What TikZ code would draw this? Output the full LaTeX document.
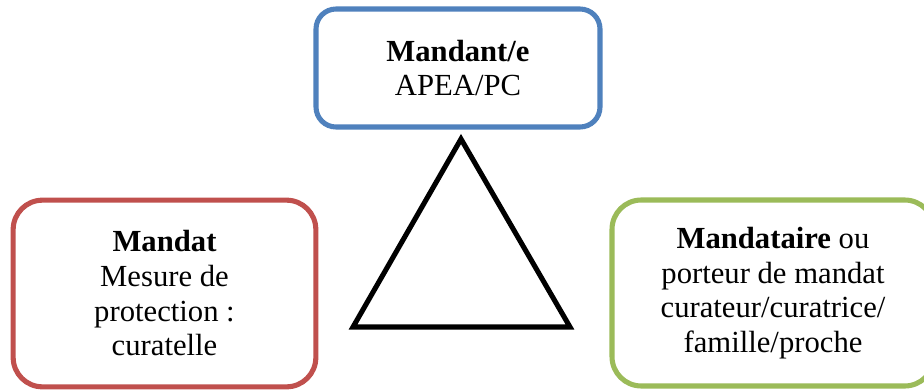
\documentclass[tikz,border=0pt]{standalone}
\usepackage{fontspec}
\setmainfont{Liberation Serif}
\definecolor{boxblue}{HTML}{4F81BD}
\definecolor{boxred}{HTML}{C0504D}
\definecolor{boxgreen}{HTML}{9BBB59}
\begin{document}
\begin{tikzpicture}[x=0.75pt,y=-0.75pt,
  card/.style={draw, line width=3.8pt, fill=white, align=center, inner sep=0pt,
    font=\fontsize{23}{26}\selectfont},
  tri/.style={draw=black, line width=3.8pt, line join=miter}]
\useasboundingbox (0,0) rectangle (924,389);
\node[card, draw=boxblue, rounded corners=15pt, minimum width=213pt, minimum height=88.5pt]
  (mandant) at (458,68) {\textbf{Mandant/e}\\APEA/PC};
\node[card, draw=boxred, rounded corners=22pt, minimum width=227pt, minimum height=140pt]
  (mandat) at (164.5,293.5) {\textbf{Mandat}\\Mesure de\\protection :\\curatelle};
\node[card, draw=boxgreen, rounded corners=22pt, minimum width=241.5pt, minimum height=139.5pt]
  (mandataire) at (773,293) {\textbf{Mandataire} ou\\porteur de mandat\\curateur/curatrice/\\famille/proche};
\coordinate (apex) at (461,139);
\coordinate (bl) at (353,327);
\coordinate (br) at (570,327);
\draw[tri] (apex) -- (bl) -- (br) -- cycle;
\end{tikzpicture}
\end{document}
